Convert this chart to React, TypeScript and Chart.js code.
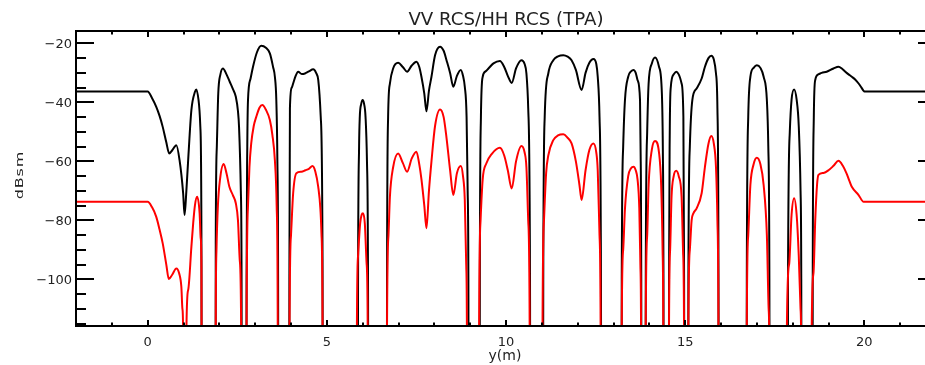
import React, { useEffect, useRef } from 'react';
import { Chart, registerables } from 'chart.js';

Chart.register(...registerables);

const X_MIN = -2;
const X_MAX = 22;
const Y_MIN = -115.8;
const Y_MAX = -15.8;

const titleText = 'VV RCS/HH RCS (TPA)';
const xTitle = 'y(m)';
const yTitle = 'dBsm';
const xTickLabels = [0, 5, 10, 15, 20];
const yTickLabels = [-20, -40, -60, -80, -100];

// black curve: positions (m) and values (dBsm); -300 marks nulls far below the axis
const vvY = [
  -2, 0, 0.12, 0.24, 0.33, 0.42, 0.52, 0.6, 0.68, 0.8, 0.89, 0.99, 1.03, 1.08, 1.13, 1.22, 1.32, 1.36, 1.42, 1.47, 1.5, 1.52,
  1.88, 1.9, 1.93, 1.97, 2.03, 2.1, 2.2, 2.29, 2.38, 2.46, 2.52, 2.55, 2.6, 2.62, 2.64,
  2.74, 2.76, 2.78, 2.8, 2.87, 2.94, 3.05, 3.17, 3.3, 3.41, 3.5, 3.55, 3.59, 3.62, 3.64, 3.66,
  3.94, 3.955, 3.97, 4.02, 4.06, 4.13, 4.2, 4.3, 4.39, 4.5, 4.62, 4.7, 4.76, 4.83, 4.88, 4.9,
  5.85, 5.87, 5.9, 5.92, 5.96, 6.0, 6.04, 6.08, 6.12, 6.15, 6.17,
  6.66, 6.68, 6.71, 6.76, 6.85, 6.99, 7.12, 7.24, 7.37, 7.5, 7.58, 7.64, 7.72, 7.78, 7.85, 7.92, 8.02, 8.16, 8.26, 8.34, 8.44, 8.53, 8.63, 8.74, 8.8, 8.85, 8.9, 8.93, 8.95, 8.97,
  9.25, 9.27, 9.3, 9.35, 9.43, 9.51, 9.65, 9.83, 9.95, 10.05, 10.16, 10.28, 10.43, 10.52, 10.57, 10.62, 10.67, 10.69,
  11.02, 11.04, 11.08, 11.18, 11.32, 11.45, 11.6, 11.72, 11.83, 11.95, 12.11, 12.22, 12.33, 12.44, 12.52, 12.56, 12.61, 12.65, 12.67,
  13.21, 13.23, 13.27, 13.32, 13.41, 13.49, 13.56, 13.62, 13.67, 13.74, 13.76, 13.775, 13.79,
  13.88, 13.9, 13.94, 13.98, 14.07, 14.16, 14.27, 14.35, 14.38, 14.395, 14.41,
  14.53, 14.55, 14.57, 14.6, 14.68, 14.75, 14.82, 14.9, 14.95, 14.97, 14.99,
  15.07, 15.09, 15.13, 15.2, 15.32, 15.46, 15.55, 15.65, 15.73, 15.8, 15.86, 15.9, 15.93, 15.95,
  16.7, 16.72, 16.76, 16.82, 16.91, 17.0, 17.1, 17.19, 17.28, 17.32, 17.35, 17.37,
  17.85, 17.87, 17.92, 17.97, 18.04, 18.11, 18.17, 18.22, 18.24, 18.26,
  18.54, 18.56, 18.59, 18.63, 18.72, 18.81, 18.95, 19.14, 19.28, 19.38, 19.47, 19.56, 19.65, 19.75, 19.84, 19.92, 19.98, 20.0, 22,
];
const vvDb = [
  -36.3, -36.3, -38.5, -41.5, -44.5, -48.3, -53.5, -57.3, -56.3, -54.5, -59.6, -70.8, -78.2, -70, -59.6, -42.6, -36.4, -35.6, -39.2, -48.3, -84, -300,
  -300, -87.8, -55, -37, -30.5, -28.5, -30.5, -33, -35.5, -38.1, -43, -48.3, -70, -97.9, -300,
  -300, -100, -55, -39.2, -32, -27.9, -23, -20.8, -21.5, -23.4, -28, -31.3, -39.2, -60, -100, -300,
  -300, -100, -42, -35, -33.6, -31, -29.6, -30.4, -30.2, -29.5, -28.8, -30, -32.4, -45, -93, -300,
  -300, -107, -55, -44.9, -40.5, -39.2, -40.5, -44.9, -60, -103.6, -300,
  -300, -100, -45, -33.6, -28.5, -26.6, -28, -29.6, -27.5, -26.2, -28, -31.3, -37, -43, -36, -31.3, -24, -21.1, -22.5, -25.7, -30, -34.7, -31, -29, -31, -34.7, -45, -70, -100, -300,
  -300, -100, -45, -31.3, -29.5, -28.5, -26.8, -26, -28, -31, -33.4, -28.5, -25.7, -27, -30.2, -42, -100, -300,
  -300, -100, -45, -30.2, -25.7, -24.4, -24, -24.5, -25.7, -29, -35.8, -30, -26.5, -25.3, -27, -31.3, -45, -100, -300,
  -300, -100, -55, -39.2, -31.3, -29.5, -29, -30, -32.4, -39.2, -60, -100, -300,
  -300, -100, -50, -33.6, -26.8, -24.8, -27.9, -36.9, -60, -100, -300,
  -300, -100, -50, -34.7, -30.5, -29.6, -30.5, -33.6, -44.9, -100, -300,
  -300, -100, -55, -39.2, -35.3, -31.9, -28, -25, -24.2, -25.5, -30.2, -42, -100, -300,
  -300, -100, -45, -31.3, -28.3, -27.4, -28.3, -31.3, -39.2, -55, -100, -300,
  -300, -100, -50, -39, -35.6, -39, -48, -70, -100, -300,
  -300, -100, -45, -32.4, -30.5, -30, -29.6, -28.5, -27.9, -28.6, -29.6, -30.5, -31.3, -32.3, -33.6, -35, -36.1, -36.3, -36.3,
];

// red curve
const hhY = [
  -2, 0, 0.12, 0.24, 0.33, 0.42, 0.52, 0.59, 0.68, 0.8, 0.88, 0.94, 0.97, 0.99, 1.01, 1.06, 1.08, 1.13, 1.22, 1.27, 1.32, 1.38, 1.45, 1.48, 1.5, 1.52,
  1.88, 1.9, 1.92, 1.96, 2.02, 2.12, 2.2, 2.28, 2.38, 2.46, 2.52, 2.57, 2.61, 2.63,
  2.74, 2.76, 2.8, 2.84, 2.89, 2.96, 3.03, 3.12, 3.2, 3.3, 3.41, 3.48, 3.55, 3.6, 3.63, 3.65,
  3.94, 3.96, 4.0, 4.06, 4.15, 4.29, 4.4, 4.5, 4.6, 4.68, 4.76, 4.82, 4.85, 4.88, 4.9,
  5.82, 5.84, 5.87, 5.93, 5.97, 6.01, 6.06, 6.11, 6.14, 6.16,
  6.66, 6.68, 6.72, 6.76, 6.85, 6.99, 7.12, 7.24, 7.37, 7.5, 7.58, 7.64, 7.72, 7.78, 7.85, 7.92, 8.02, 8.16, 8.26, 8.34, 8.44, 8.53, 8.63, 8.74, 8.8, 8.85, 8.89, 8.91, 8.93,
  9.23, 9.25, 9.29, 9.35, 9.45, 9.6, 9.83, 9.95, 10.05, 10.16, 10.28, 10.43, 10.52, 10.57, 10.62, 10.66, 10.68,
  11.0, 11.02, 11.06, 11.12, 11.18, 11.32, 11.45, 11.6, 11.72, 11.83, 11.95, 12.05, 12.11, 12.22, 12.33, 12.44, 12.52, 12.56, 12.61, 12.64, 12.66,
  13.21, 13.23, 13.27, 13.32, 13.41, 13.49, 13.56, 13.62, 13.67, 13.72, 13.75, 13.77, 13.79,
  13.88, 13.9, 13.94, 13.98, 14.07, 14.16, 14.27, 14.33, 14.37, 14.39, 14.41,
  14.53, 14.55, 14.58, 14.62, 14.68, 14.75, 14.82, 14.9, 14.94, 14.97, 14.99,
  15.07, 15.09, 15.13, 15.18, 15.23, 15.32, 15.46, 15.55, 15.65, 15.73, 15.8, 15.86, 15.9, 15.93, 15.95,
  16.7, 16.72, 16.76, 16.82, 16.91, 17.0, 17.1, 17.19, 17.28, 17.33, 17.35, 17.37,
  17.82, 17.84, 17.9, 17.97, 18.04, 18.11, 18.17, 18.22, 18.24, 18.26,
  18.51, 18.53, 18.58, 18.63, 18.68, 18.72, 18.86, 19.0, 19.14, 19.28, 19.4, 19.5, 19.58, 19.65, 19.84, 19.98, 22,
];
const hhDb = [
  -73.7, -73.7, -75.5, -78.8, -83, -87.8, -95, -99.9, -98.5, -96.3, -98, -102.5, -110, -118, -300, -300, -118, -103.6, -89, -81, -74.8, -72, -77.6, -86, -95.7, -300,
  -300, -115, -90, -75, -66, -60.9, -64, -68.6, -71.5, -74.2, -80, -93.5, -118, -300,
  -300, -115, -75, -62, -53.9, -48, -44.9, -41.8, -40.9, -42.5, -46, -51, -59.6, -75, -115, -300,
  -300, -115, -85, -70.8, -64, -63.5, -63, -62.5, -61.6, -63.5, -68.6, -76, -84.4, -115, -300,
  -300, -115, -92.3, -81, -78.2, -77.6, -81, -94.6, -115, -300,
  -300, -115, -85, -72, -62, -57.3, -60.5, -63.5, -59, -56.7, -61, -66, -75, -82.7, -70, -60, -48, -42.4, -45, -52, -63, -71.4, -64, -61.6, -65, -73, -95, -120, -300,
  -300, -115, -80, -66, -60.7, -57.5, -55.4, -58, -63, -69.2, -60, -54.8, -57, -62, -80, -115, -300,
  -300, -115, -80, -64, -58, -52.8, -51.2, -50.8, -52, -53.9, -60, -68, -73.1, -63, -56, -53.9, -57, -63, -85, -115, -300,
  -300, -115, -90, -76, -65, -62.3, -61.8, -63, -66, -76, -95, -120, -300,
  -300, -115, -85, -68, -56, -53.1, -57, -68, -90, -120, -300,
  -300, -115, -90, -72, -65, -63.2, -65, -72, -90, -120, -300,
  -300, -115, -90, -80, -77.6, -75.9, -70.8, -62, -54, -51.4, -54, -62, -80, -120, -300,
  -300, -115, -85, -68, -61, -58.8, -61, -68, -85, -110, -125, -300,
  -300, -115, -95, -78, -72.5, -78, -92, -110, -125, -300,
  -300, -118, -98, -79.9, -68, -64.6, -63.9, -63, -61.5, -59.8, -61.5, -64, -66.5, -68.6, -71.4, -73.7, -73.7,
];

const FONT = '"DejaVu Sans", "Liberation Sans", sans-serif';
const TEXT_COLOR = '#222';

const axesPlugin = {
  id: 'idlAxes',
  afterDraw(chart: any) {
    const { ctx, chartArea: a, scales } = chart;
    const xs = scales.x;
    const ys = scales.y;
    ctx.save();
    ctx.strokeStyle = '#000';
    ctx.lineWidth = 2;
    ctx.lineCap = 'butt';
    ctx.strokeRect(a.left, a.top, a.right - a.left, a.bottom - a.top);

    ctx.beginPath();
    for (let v = X_MIN + 1; v < X_MAX; v += 1) {
      const px = Math.round(xs.getPixelForValue(v));
      const len = v % 5 === 0 ? 6 : 3.5;
      ctx.moveTo(px, a.bottom);
      ctx.lineTo(px, a.bottom - len);
      ctx.moveTo(px, a.top);
      ctx.lineTo(px, a.top + len);
    }
    for (let v = -115; v < Y_MAX; v += 5) {
      const py = Math.round(ys.getPixelForValue(v));
      const len = v % 20 === 0 ? 18 : 10;
      ctx.moveTo(a.left, py);
      ctx.lineTo(a.left + len, py);
      ctx.moveTo(a.right, py);
      ctx.lineTo(a.right - len, py);
    }
    ctx.stroke();

    const txt = (s: string, x: number, y: number, font: string, align: string, sx = 1, rot = 0, spacing = 0) => {
      ctx.save();
      ctx.translate(x, y);
      if (rot) ctx.rotate(rot);
      ctx.scale(sx, 1);
      ctx.font = font;
      ctx.fillStyle = TEXT_COLOR;
      ctx.textAlign = align;
      ctx.textBaseline = 'alphabetic';
      if (spacing) (ctx as any).letterSpacing = spacing + 'px';
      ctx.fillText(s, 0, 0);
      ctx.restore();
    };

    for (const v of yTickLabels) {
      const py = ys.getPixelForValue(v);
      txt((v < 0 ? '\u2212' : '') + Math.abs(v), 72, py + 4.8, `13px ${FONT}`, 'right');
    }
    for (const v of xTickLabels) {
      const px = xs.getPixelForValue(v);
      txt(String(v), px, 346, `13px ${FONT}`, 'center');
    }
    const cx = (a.left + a.right) / 2;
    txt(titleText, cx, 25, `17px ${FONT}`, 'center', 1.07);
    txt(xTitle, cx - 1, 360, `14px ${FONT}`, 'center');
    txt(yTitle, 22.7, 175, `11px ${FONT}`, 'center', 1.45, -Math.PI / 2, 0.6);
    ctx.restore();
  },
};

export default function App() {
  const ref = useRef<HTMLCanvasElement>(null);
  useEffect(() => {
    const canvas = ref.current;
    if (!canvas) return;
    const common = {
      pointRadius: 0,
      borderWidth: 2,
      cubicInterpolationMode: 'monotone' as const,
      fill: false,
      borderJoinStyle: 'round' as const,
    };
    const chart = new Chart(canvas, {
      type: 'line',
      data: {
        datasets: [
          {
            label: 'HH',
            data: hhY.map((x, i) => ({ x, y: hhDb[i] })),
            borderColor: '#ff0000',
            ...common,
          },
          {
            label: 'VV',
            data: vvY.map((x, i) => ({ x, y: vvDb[i] })),
            borderColor: '#000000',
            ...common,
          },
        ],
      },
      options: {
        responsive: false,
        maintainAspectRatio: false,
        animation: false,
        devicePixelRatio: 1,
        events: [],
        layout: { padding: { left: 76, top: 31, right: 9, bottom: 39 } },
        scales: {
          x: { type: 'linear', min: X_MIN, max: X_MAX, display: false },
          y: { type: 'linear', min: Y_MIN, max: Y_MAX, display: false },
        },
        plugins: { legend: { display: false }, tooltip: { enabled: false } },
      },
      plugins: [axesPlugin],
    } as any);
    return () => chart.destroy();
  }, []);
  return (
    <div style={{ position: 'fixed', left: 0, top: 0, width: 925, height: 365, overflow: 'hidden', background: '#fff' }}>
      <canvas ref={ref} width={945} height={365} style={{ display: 'block', width: 945, height: 365 }} />
    </div>
  );
}
